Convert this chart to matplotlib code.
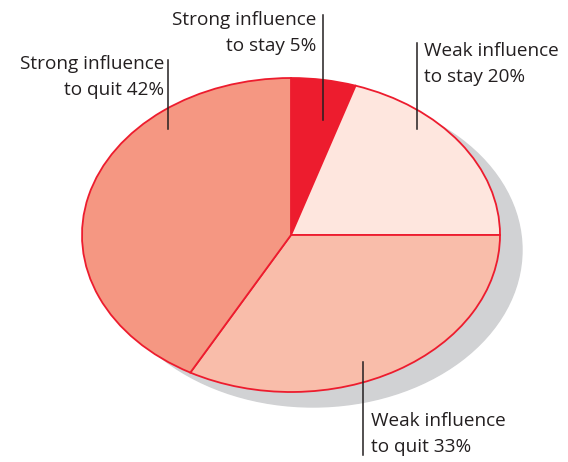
import matplotlib
matplotlib.use("Agg")
import matplotlib.pyplot as plt
from matplotlib.patches import Ellipse

# data
labels = ["Strong influence\nto stay 5%", "Weak influence\nto stay 20%",
          "Weak influence\nto quit 33%", "Strong influence\nto quit 42%"]
shares = [5, 20, 33, 42]
colors = ["#ED1C2E", "#FEE6DE", "#F9BDAA", "#F59782"]

W, H = 568, 462
fig = plt.figure(figsize=(W / 100, H / 100), dpi=100)

# pie axes sized to the ellipse bounding box (stretched pie)
cx, cy, a, b = 291, 235, 209, 157
ax = fig.add_axes([(cx - a) / W, (H - cy - b) / H, 2 * a / W, 2 * b / H])
ax.add_patch(Ellipse((22 / a, -15 / b), 2, 2, color="#D1D2D4", zorder=0, clip_on=False))
wedges, _ = ax.pie(shares, colors=colors, startangle=90, counterclock=False, radius=1,
                   wedgeprops=dict(edgecolor="#ED1C2E", linewidth=1.3))
for w in wedges:
    w.set_clip_on(False)
ax.set_aspect("auto")
ax.set_xlim(-1, 1)
ax.set_ylim(-1, 1)
ax.axis("off")

# overlay in pixel coordinates for labels and leader lines
ov = fig.add_axes([0, 0, 1, 1])
ov.set_xlim(0, W)
ov.set_ylim(H, 0)
ov.axis("off")

font = dict(family="Open Sans", fontsize=13.7, color="#231F20", linespacing=1.55)
ov.text(316, 11, labels[0], ha="right", va="top", **font)
ov.plot([323, 323], [15, 120], color="#231F20", lw=1.1)

ov.text(424, 42, labels[1], ha="left", va="top", **font)
ov.plot([417, 417], [43, 129], color="#231F20", lw=1.1)

ov.text(371, 412, labels[2], ha="left", va="top", **font)
ov.plot([363, 363], [362, 455], color="#231F20", lw=1.1)

ov.text(164, 55, labels[3], ha="right", va="top", **font)
ov.plot([168, 168], [60, 129], color="#231F20", lw=1.1)

fig.savefig("out.png", dpi=100)
